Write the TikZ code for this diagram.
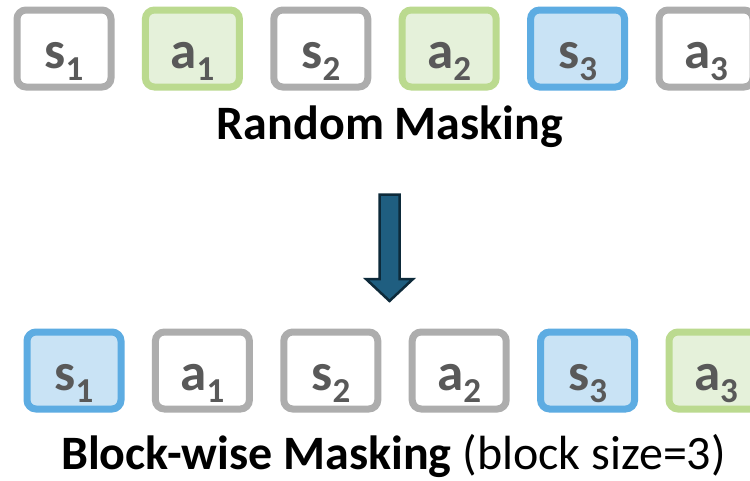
\documentclass[tikz,border=0pt]{standalone}
\usepackage{fontspec}
\setmainfont{Carlito}
\definecolor{grayB}{HTML}{ADADAD}
\definecolor{greenB}{HTML}{BBDA8F}
\definecolor{greenF}{HTML}{E5F1DA}
\definecolor{blueB}{HTML}{5DACE2}
\definecolor{blueF}{HTML}{C9E3F5}
\definecolor{tokT}{HTML}{595959}
\definecolor{arrF}{HTML}{1F5E80}
\definecolor{arrD}{HTML}{0D2A3A}
\newcommand{\tok}[2]{{\bfseries\fontsize{53}{53}\selectfont #1\raisebox{-12pt}[0pt][0pt]{\fontsize{35}{35}\selectfont #2}}}
\begin{document}
\begin{tikzpicture}[x=1pt,y=-1pt,
  tokbox/.style={rectangle, rounded corners=9pt, line width=7pt, minimum width=94pt, minimum height=77pt,
    inner sep=0pt, text=tokT, text height=40pt, text depth=1pt},
  plain/.style={tokbox, draw=grayB, fill=white},
  grn/.style={tokbox, draw=greenB, fill=greenF},
  blu/.style={tokbox, draw=blueB, fill=blueF},
  title/.style={inner sep=0pt, anchor=base, font=\fontsize{48}{48}\selectfont}]
\useasboundingbox (0,0) rectangle (750,480);
\fill[white] (0,0) rectangle (750,480);
% top row
\node[plain] (t1) at (64,48.5) {\tok{s}{1}};
\node[grn]   (t2) at (192.4,48.5) {\tok{a}{1}};
\node[plain] (t3) at (320.8,48.5) {\tok{s}{2}};
\node[grn]   (t4) at (449.2,48.5) {\tok{a}{2}};
\node[blu]   (t5) at (577.6,48.5) {\tok{s}{3}};
\node[plain] (t6) at (706,48.5) {\tok{a}{3}};
\node[title] (rm) at (390,139) {\textbf{Random Masking}};
% arrow
\draw[fill=arrF, draw=arrD, line width=2.5pt, line join=miter]
  (379.5,194.5) -- (399.5,194.5) -- (399.5,279) -- (413,279) -- (389.5,301)
  -- (366,279) -- (379.5,279) -- cycle;
% bottom row
\node[blu]   (b1) at (74,370.5) {\tok{s}{1}};
\node[plain] (b2) at (202.4,370.5) {\tok{a}{1}};
\node[plain] (b3) at (330.8,370.5) {\tok{s}{2}};
\node[plain] (b4) at (459.2,370.5) {\tok{a}{2}};
\node[blu]   (b5) at (587.6,370.5) {\tok{s}{3}};
\node[grn]   (b6) at (716,370.5) {\tok{a}{3}};
\node[title] (bm) at (393.5,469) {\textbf{Block-wise Masking} (block size=3)};
\end{tikzpicture}
\end{document}
